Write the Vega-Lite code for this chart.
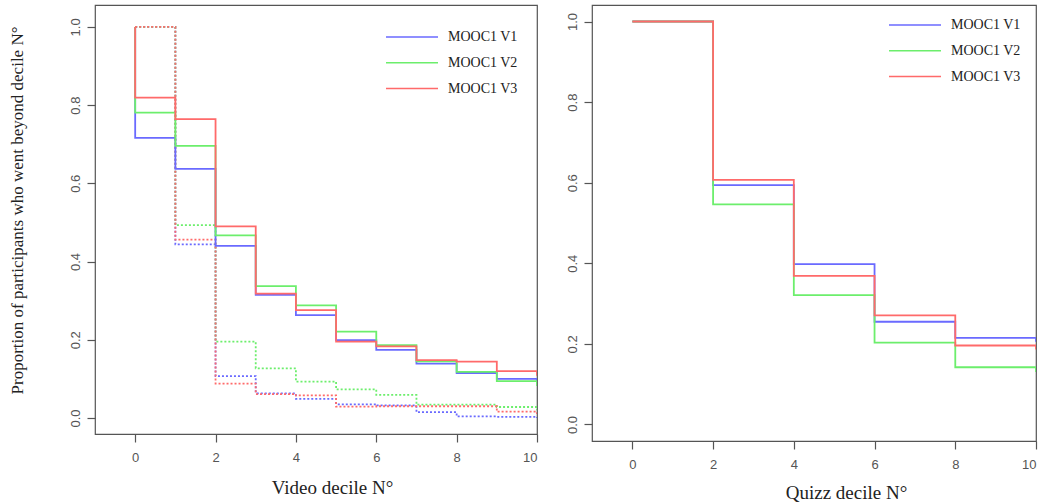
{
  "$schema": "https://vega.github.io/schema/vega-lite/v6.json",
  "background": "white",
  "padding": {"left": 7, "top": 4, "right": 0, "bottom": 0},
  "config": {
    "view": {"stroke": "#555555", "strokeWidth": 1.2},
    "axis": {"grid": false, "domain": false, "tickColor": "#555555", "tickSize": 8, "tickWidth": 1.2,
      "labelColor": "#555555", "labelFont": "Liberation Sans", "labelFontSize": 13,
      "titleFont": "Liberation Serif", "titleFontSize": 19, "titleFontWeight": "normal", "titleColor": "#222222"},
    "legend": {"labelFont": "Liberation Serif", "labelFontSize": 14, "labelColor": "#222222", "symbolType": "M-2,0H2",
      "symbolSize": 676, "symbolStrokeWidth": 1.5, "labelOffset": 22, "padding": 0, "rowPadding": 4.8, "title": null},
    "concat": {"spacing": 26}
  },
  "datasets": {
    "video": [
      {"v": "MOOC1 V1", "t": "dotted", "x": 0, "y": 1.0, "o": 0},
      {"v": "MOOC1 V1", "t": "dotted", "x": 1, "y": 0.444, "o": 1},
      {"v": "MOOC1 V1", "t": "dotted", "x": 2, "y": 0.107, "o": 2},
      {"v": "MOOC1 V1", "t": "dotted", "x": 3, "y": 0.063, "o": 3},
      {"v": "MOOC1 V1", "t": "dotted", "x": 4, "y": 0.049, "o": 4},
      {"v": "MOOC1 V1", "t": "dotted", "x": 5, "y": 0.035, "o": 5},
      {"v": "MOOC1 V1", "t": "dotted", "x": 6, "y": 0.032, "o": 6},
      {"v": "MOOC1 V1", "t": "dotted", "x": 7, "y": 0.015, "o": 7},
      {"v": "MOOC1 V1", "t": "dotted", "x": 8, "y": 0.004, "o": 8},
      {"v": "MOOC1 V1", "t": "dotted", "x": 9, "y": 0.003, "o": 9},
      {"v": "MOOC1 V1", "t": "dotted", "x": 10, "y": 0.0, "o": 10},
      {"v": "MOOC1 V2", "t": "dotted", "x": 0, "y": 1.0, "o": 0},
      {"v": "MOOC1 V2", "t": "dotted", "x": 1, "y": 0.493, "o": 1},
      {"v": "MOOC1 V2", "t": "dotted", "x": 2, "y": 0.195, "o": 2},
      {"v": "MOOC1 V2", "t": "dotted", "x": 3, "y": 0.127, "o": 3},
      {"v": "MOOC1 V2", "t": "dotted", "x": 4, "y": 0.093, "o": 4},
      {"v": "MOOC1 V2", "t": "dotted", "x": 5, "y": 0.073, "o": 5},
      {"v": "MOOC1 V2", "t": "dotted", "x": 6, "y": 0.059, "o": 6},
      {"v": "MOOC1 V2", "t": "dotted", "x": 7, "y": 0.034, "o": 7},
      {"v": "MOOC1 V2", "t": "dotted", "x": 8, "y": 0.034, "o": 8},
      {"v": "MOOC1 V2", "t": "dotted", "x": 9, "y": 0.028, "o": 9},
      {"v": "MOOC1 V2", "t": "dotted", "x": 10, "y": 0.02, "o": 10},
      {"v": "MOOC1 V3", "t": "dotted", "x": 0, "y": 1.0, "o": 0},
      {"v": "MOOC1 V3", "t": "dotted", "x": 1, "y": 0.456, "o": 1},
      {"v": "MOOC1 V3", "t": "dotted", "x": 2, "y": 0.088, "o": 2},
      {"v": "MOOC1 V3", "t": "dotted", "x": 3, "y": 0.061, "o": 3},
      {"v": "MOOC1 V3", "t": "dotted", "x": 4, "y": 0.058, "o": 4},
      {"v": "MOOC1 V3", "t": "dotted", "x": 5, "y": 0.029, "o": 5},
      {"v": "MOOC1 V3", "t": "dotted", "x": 6, "y": 0.030, "o": 6},
      {"v": "MOOC1 V3", "t": "dotted", "x": 7, "y": 0.030, "o": 7},
      {"v": "MOOC1 V3", "t": "dotted", "x": 8, "y": 0.030, "o": 8},
      {"v": "MOOC1 V3", "t": "dotted", "x": 9, "y": 0.016, "o": 9},
      {"v": "MOOC1 V3", "t": "dotted", "x": 10, "y": 0.01, "o": 10},
      {"v": "MOOC1 V1", "t": "solid", "x": 0, "y": 1.0, "o": 0},
      {"v": "MOOC1 V1", "t": "solid", "x": 0, "y": 0.716, "o": 1},
      {"v": "MOOC1 V1", "t": "solid", "x": 1, "y": 0.637, "o": 2},
      {"v": "MOOC1 V1", "t": "solid", "x": 2, "y": 0.440, "o": 3},
      {"v": "MOOC1 V1", "t": "solid", "x": 3, "y": 0.315, "o": 4},
      {"v": "MOOC1 V1", "t": "solid", "x": 4, "y": 0.263, "o": 5},
      {"v": "MOOC1 V1", "t": "solid", "x": 5, "y": 0.199, "o": 6},
      {"v": "MOOC1 V1", "t": "solid", "x": 6, "y": 0.174, "o": 7},
      {"v": "MOOC1 V1", "t": "solid", "x": 7, "y": 0.139, "o": 8},
      {"v": "MOOC1 V1", "t": "solid", "x": 8, "y": 0.115, "o": 9},
      {"v": "MOOC1 V1", "t": "solid", "x": 9, "y": 0.100, "o": 10},
      {"v": "MOOC1 V1", "t": "solid", "x": 10, "y": 0.092, "o": 11},
      {"v": "MOOC1 V2", "t": "solid", "x": 0, "y": 1.0, "o": 0},
      {"v": "MOOC1 V2", "t": "solid", "x": 0, "y": 0.781, "o": 1},
      {"v": "MOOC1 V2", "t": "solid", "x": 1, "y": 0.696, "o": 2},
      {"v": "MOOC1 V2", "t": "solid", "x": 2, "y": 0.467, "o": 3},
      {"v": "MOOC1 V2", "t": "solid", "x": 3, "y": 0.337, "o": 4},
      {"v": "MOOC1 V2", "t": "solid", "x": 4, "y": 0.288, "o": 5},
      {"v": "MOOC1 V2", "t": "solid", "x": 5, "y": 0.221, "o": 6},
      {"v": "MOOC1 V2", "t": "solid", "x": 6, "y": 0.186, "o": 7},
      {"v": "MOOC1 V2", "t": "solid", "x": 7, "y": 0.145, "o": 8},
      {"v": "MOOC1 V2", "t": "solid", "x": 8, "y": 0.118, "o": 9},
      {"v": "MOOC1 V2", "t": "solid", "x": 9, "y": 0.094, "o": 10},
      {"v": "MOOC1 V2", "t": "solid", "x": 10, "y": 0.082, "o": 11},
      {"v": "MOOC1 V3", "t": "solid", "x": 0, "y": 1.0, "o": 0},
      {"v": "MOOC1 V3", "t": "solid", "x": 0, "y": 0.819, "o": 1},
      {"v": "MOOC1 V3", "t": "solid", "x": 1, "y": 0.764, "o": 2},
      {"v": "MOOC1 V3", "t": "solid", "x": 2, "y": 0.490, "o": 3},
      {"v": "MOOC1 V3", "t": "solid", "x": 3, "y": 0.318, "o": 4},
      {"v": "MOOC1 V3", "t": "solid", "x": 4, "y": 0.276, "o": 5},
      {"v": "MOOC1 V3", "t": "solid", "x": 5, "y": 0.195, "o": 6},
      {"v": "MOOC1 V3", "t": "solid", "x": 6, "y": 0.183, "o": 7},
      {"v": "MOOC1 V3", "t": "solid", "x": 7, "y": 0.148, "o": 8},
      {"v": "MOOC1 V3", "t": "solid", "x": 8, "y": 0.144, "o": 9},
      {"v": "MOOC1 V3", "t": "solid", "x": 9, "y": 0.120, "o": 10},
      {"v": "MOOC1 V3", "t": "solid", "x": 10, "y": 0.108, "o": 11}
    ],
    "quiz": [
      {"v": "MOOC1 V1", "x": 0, "y": 1.0, "o": 0},
      {"v": "MOOC1 V1", "x": 2, "y": 0.594, "o": 1},
      {"v": "MOOC1 V1", "x": 4, "y": 0.398, "o": 2},
      {"v": "MOOC1 V1", "x": 6, "y": 0.255, "o": 3},
      {"v": "MOOC1 V1", "x": 8, "y": 0.215, "o": 4},
      {"v": "MOOC1 V1", "x": 10, "y": 0.205, "o": 5},
      {"v": "MOOC1 V2", "x": 0, "y": 1.0, "o": 0},
      {"v": "MOOC1 V2", "x": 2, "y": 0.546, "o": 1},
      {"v": "MOOC1 V2", "x": 4, "y": 0.321, "o": 2},
      {"v": "MOOC1 V2", "x": 6, "y": 0.203, "o": 3},
      {"v": "MOOC1 V2", "x": 8, "y": 0.142, "o": 4},
      {"v": "MOOC1 V2", "x": 10, "y": 0.130, "o": 5},
      {"v": "MOOC1 V3", "x": 0, "y": 1.0, "o": 0},
      {"v": "MOOC1 V3", "x": 2, "y": 0.607, "o": 1},
      {"v": "MOOC1 V3", "x": 4, "y": 0.369, "o": 2},
      {"v": "MOOC1 V3", "x": 6, "y": 0.271, "o": 3},
      {"v": "MOOC1 V3", "x": 8, "y": 0.196, "o": 4},
      {"v": "MOOC1 V3", "x": 10, "y": 0.186, "o": 5}
    ]
  },
  "hconcat": [
    {
      "width": 442,
      "height": 429,
      "data": {"name": "video"},
      "mark": {"type": "line", "interpolate": "step-after", "strokeWidth": 1.8, "clip": true},
      "encoding": {
        "x": {"field": "x", "type": "quantitative", "scale": {"domain": [-1, 10], "nice": false, "zero": false},
          "axis": {"values": [0, 2, 4, 6, 8, 10], "title": "Video decile N°", "labelPadding": 9, "titlePadding": 14, "titleX": 237}},
        "y": {"field": "y", "type": "quantitative", "scale": {"domain": [-0.041, 1.056], "nice": false, "zero": false},
          "axis": {"values": [0, 0.2, 0.4, 0.6, 0.8, 1.0], "format": ".1f", "labelAngle": -90, "labelAlign": "center", "labelBaseline": "bottom", "labelPadding": 5,
            "title": "Proportion of participants who went beyond decile N°", "titleFontSize": 17, "titlePadding": 43, "titleY": 205}},
        "color": {"field": "v", "type": "nominal", "scale": {"domain": ["MOOC1 V1", "MOOC1 V2", "MOOC1 V3"], "range": ["#6a6aff", "#6cee6c", "#ff6a6a"]},
          "legend": {"orient": "none", "legendX": 303, "legendY": 18}},
        "strokeDash": {"field": "t", "type": "nominal", "scale": {"domain": ["solid", "dotted"], "range": [[1, 0], [2, 2]]}, "legend": null},
        "order": {"field": "o", "type": "quantitative"}
      }
    },
    {
      "width": 444,
      "height": 436,
      "data": {"name": "quiz"},
      "mark": {"type": "line", "interpolate": "step-after", "strokeWidth": 1.8, "clip": true},
      "encoding": {
        "x": {"field": "x", "type": "quantitative", "scale": {"domain": [-1, 10], "nice": false, "zero": false},
          "axis": {"values": [0, 2, 4, 6, 8, 10], "title": "Quizz decile N°", "labelPadding": 9, "titlePadding": 12, "titleX": 254}},
        "y": {"field": "y", "type": "quantitative", "scale": {"domain": [-0.041, 1.041], "nice": false, "zero": false},
          "axis": {"values": [0, 0.2, 0.4, 0.6, 0.8, 1.0], "format": ".1f", "labelAngle": -90, "labelAlign": "center", "labelBaseline": "bottom", "labelPadding": 5, "title": null}},
        "color": {"field": "v", "type": "nominal", "scale": {"domain": ["MOOC1 V1", "MOOC1 V2", "MOOC1 V3"], "range": ["#6a6aff", "#6cee6c", "#ff6a6a"]},
          "legend": {"orient": "none", "legendX": 309, "legendY": 6}},
        "order": {"field": "o", "type": "quantitative"}
      }
    }
  ],
  "resolve": {"scale": {"color": "independent", "x": "independent", "y": "independent"}, "legend": {"color": "independent"}}
}
